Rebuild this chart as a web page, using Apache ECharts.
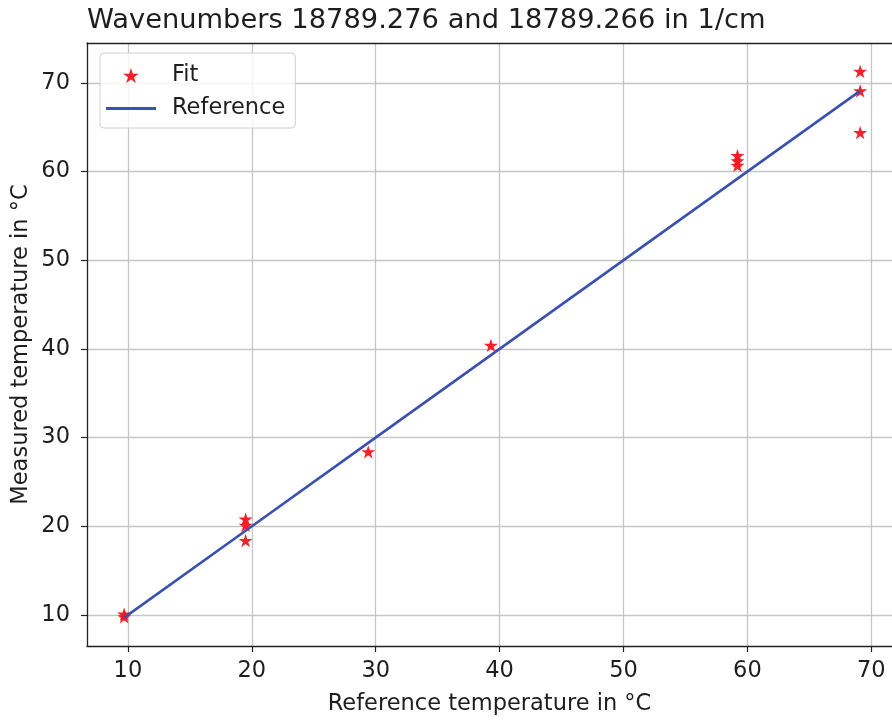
<!DOCTYPE html>
<html>
<head>
<meta charset="utf-8">
<script src="https://cdn.jsdelivr.net/npm/echarts@6/dist/echarts.min.js"></script>
<style>
html,body{margin:0;padding:0;background:#fff;overflow:hidden;}
#chart{width:892px;height:721px;}
</style>
</head>
<body>
<div id="chart"></div>
<script>
// Data
const titleText = 'Wavenumbers 18789.276 and 18789.266 in 1/cm';
const xAxisName = 'Reference temperature in °C';
const yAxisName = 'Measured temperature in °C';
const fitRef = [9.7, 9.7, 19.5, 19.5, 19.5, 29.4, 39.3, 59.2, 59.2, 59.2, 69.1, 69.1, 69.1];
const fitMeasured = [10.1, 9.8, 20.8, 20.1, 18.4, 28.4, 40.4, 61.8, 61.2, 60.7, 71.3, 69.1, 64.4];
const refTemps = [9.7, 19.5, 29.4, 39.3, 59.2, 69.1];
const xTicks = [10, 20, 30, 40, 50, 60, 70];
const yTicks = [10, 20, 30, 40, 50, 60, 70];

const starPath = 'path://M0,-100L22.45,-30.9L95.11,-30.9L36.33,11.8L58.78,80.9L0,38.2L-58.78,80.9L-36.33,11.8L-95.11,-30.9L-22.45,-30.9Z';
const linePath = 'path://M0,0L100,0L100,6L0,6Z';
const font = 'DejaVu Sans';
const txt = '#1e1e1e';

const fitData = fitRef.map((x, i) => [x, fitMeasured[i]]);
const refData = refTemps.map(x => [x, x]);

const chart = echarts.init(document.getElementById('chart'), null, {renderer: 'canvas'});
const axisCommon = {
  type: 'value',
  axisLine: {show: true, onZero: false, lineStyle: {color: '#222', width: 1.3}},
  axisTick: {show: true, length: 6, inside: false, lineStyle: {color: '#222', width: 1.2}},
  splitLine: {show: true, lineStyle: {color: '#c6c6c6', width: 1.3}},
  nameLocation: 'middle',
  nameMoveOverlap: false,
  nameTextStyle: {fontFamily: font, fontSize: 22.5, color: txt},
};
chart.setOption({
  animation: false,
  backgroundColor: '#fff',
  title: {
    text: titleText,
    left: 87, top: 7, padding: 0,
    textStyle: {fontFamily: font, fontSize: 27.3, fontWeight: 'normal', color: txt}
  },
  grid: {left: 87, top: 43, right: 0, bottom: 74, containLabel: false, show: false},
  legend: {
    orient: 'vertical',
    left: 100, top: 53,
    padding: [11, 10, 8, 6],
    itemGap: 10,
    itemWidth: 50, itemHeight: 15,
    backgroundColor: 'rgba(255,255,255,0.8)',
    borderColor: '#d0d0d0', borderWidth: 1, borderRadius: 4,
    textStyle: {fontFamily: font, fontSize: 22.5, color: txt, padding: [0, 0, 0, 11]},
    data: [{name: 'Fit', icon: starPath}, {name: 'Reference', icon: linePath}]
  },
  xAxis: [
    Object.assign({}, axisCommon, {
      position: 'bottom',
      min: 6.7, max: 71.67,
      name: xAxisName, nameGap: 47,
      axisLabel: {
        fontFamily: font, fontSize: 22.5, color: txt, margin: 14,
        customValues: xTicks
      },
      axisTick: Object.assign({}, axisCommon.axisTick, {customValues: xTicks}),
    }),
    {
      type: 'value', position: 'top',
      min: 6.7, max: 71.67,
      axisLine: {show: true, onZero: false, lineStyle: {color: '#222', width: 1.3}},
      axisTick: {show: false}, axisLabel: {show: false}, splitLine: {show: false}
    }
  ],
  yAxis: Object.assign({}, axisCommon, {
    min: 6.5, max: 74.5,
    name: yAxisName, nameGap: 54,
    axisLabel: {
      fontFamily: font, fontSize: 22.5, color: txt, margin: 17,
      customValues: yTicks
    },
    axisTick: Object.assign({}, axisCommon.axisTick, {customValues: yTicks}),
  }),
  series: [
    {
      name: 'Fit', type: 'scatter', data: fitData, z: 2,
      symbol: starPath, symbolSize: 14, symbolKeepAspect: true,
      itemStyle: {color: '#f5141e', opacity: 0.95}
    },
    {
      name: 'Reference', type: 'line', data: refData, z: 3,
      symbol: 'none', showSymbol: false,
      lineStyle: {color: '#3c50b0', width: 2.6},
      itemStyle: {color: '#3c50b0'}
    }
  ]
});
</script>
</body>
</html>
